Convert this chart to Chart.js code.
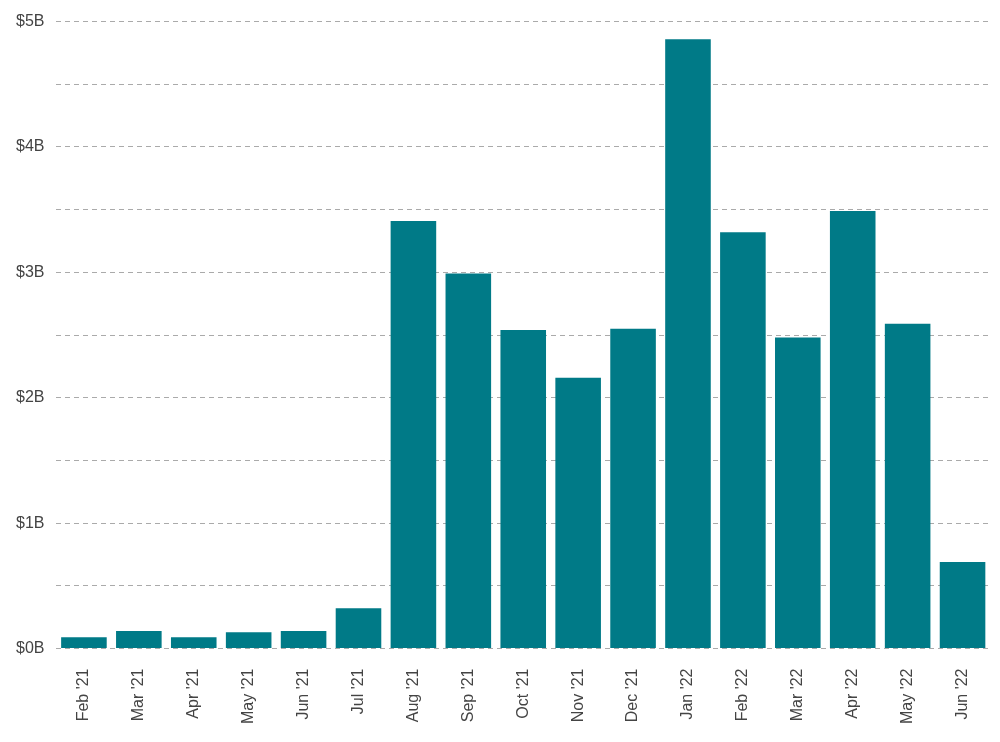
<!DOCTYPE html>
<html lang="en">
<head>
<meta charset="UTF-8">
<title>Monthly volume</title>
<style>
  body { margin: 0; background: #fff; }
  #wrap { width: 1000px; height: 742px; }
</style>
</head>
<body>
<div id="wrap"><canvas id="chart"></canvas></div>
<script src="https://cdn.jsdelivr.net/npm/chart.js"></script>
<script>
const months = ["Feb '21","Mar '21","Apr '21","May '21","Jun '21","Jul '21","Aug '21","Sep '21","Oct '21","Nov '21","Dec '21","Jan '22","Feb '22","Mar '22","Apr '22","May '22","Jun '22"];
const volumeB = [0.09,0.14,0.09,0.13,0.14,0.32,3.41,2.99,2.54,2.16,2.55,4.86,3.32,2.48,3.49,2.59,0.69];

new Chart(document.getElementById('chart'), {
  type: 'bar',
  data: {
    labels: months,
    datasets: [{ data: volumeB, backgroundColor: '#007a87', categoryPercentage: 1, barPercentage: 0.83 }]
  },
  options: {
    responsive: true,
    maintainAspectRatio: false,
    animation: false,
    layout: { padding: { top: 8, right: 10, left: 4, bottom: 6 } },
    plugins: { legend: { display: false }, tooltip: { enabled: false } },
    scales: {
      x: {
        grid: { display: false },
        border: { display: false },
        ticks: { minRotation: 90, maxRotation: 90, padding: 12, color: '#444', font: { family: 'Liberation Sans', size: 16 } }
      },
      y: {
        min: 0, max: 5,
        grid: { color: '#aaa', tickLength: 0, drawTicks: false },
        border: { display: false, dash: [5, 4] },
        ticks: {
          stepSize: 0.5, padding: 12, color: '#444',
          font: { family: 'Liberation Sans', size: 16 },
          callback: v => Number.isInteger(v) ? '$' + v + 'B' : ''
        }
      }
    }
  }
});
</script>
</body>
</html>
